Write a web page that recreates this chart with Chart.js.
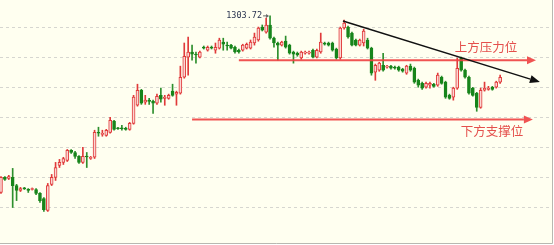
<!DOCTYPE html>
<html>
<head>
<meta charset="utf-8">
<script src="https://cdn.jsdelivr.net/npm/chart.js"></script>
<style>
  html, body { margin: 0; padding: 0; background: #fff; }
</style>
</head>
<body>
<canvas id="kline" width="554" height="245"></canvas>
<script>
// K线数据：开 / 高 / 低 / 收
const opens = [
  1245.0, 1250.0, 1249.7, 1250.0, 1247.3, 1245.7, 1246.3, 1246.0, 1246.0, 1246.0,
  1244.7, 1243.0, 1239.0, 1247.7, 1250.0, 1254.0, 1255.0, 1255.7, 1259.0, 1258.3,
  1257.0, 1255.0, 1257.0, 1256.3, 1256.7, 1265.0, 1264.3, 1264.0, 1265.0, 1268.7,
  1266.3, 1266.3, 1266.3, 1266.0, 1268.0, 1274.0, 1279.0, 1275.0, 1275.7, 1275.3,
  1274.7, 1277.3, 1276.3, 1276.3, 1278.7, 1277.7, 1278.0, 1283.3, 1290.0, 1291.7,
  1291.0, 1290.0, 1293.3, 1292.3, 1293.3, 1292.3, 1293.0, 1295.0, 1294.0, 1294.0,
  1293.3, 1292.3, 1292.3, 1293.0, 1293.0, 1294.7, 1295.7, 1300.0, 1298.3, 1300.7,
  1296.3, 1294.7, 1294.0, 1295.3, 1294.0, 1291.7, 1291.3, 1289.7, 1291.3, 1291.3,
  1292.3, 1290.0, 1291.7, 1294.7, 1294.7, 1294.7, 1292.7, 1289.7, 1299.7, 1300.0,
  1298.0, 1295.7, 1294.0, 1294.7, 1295.7, 1293.0, 1285.0, 1285.7, 1287.3, 1286.7,
  1287.0, 1286.7, 1286.7, 1286.0, 1284.7, 1287.0, 1286.3, 1282.3, 1281.3, 1280.0,
  1280.7, 1281.0, 1280.7, 1283.3, 1281.7, 1277.3, 1276.7, 1279.7, 1289.7, 1285.7,
  1283.3, 1279.7, 1278.0, 1273.3, 1279.0, 1279.3, 1280.0, 1280.0, 1281.7
];
const highs = [
  1250.3, 1250.3, 1250.7, 1253.0, 1247.7, 1246.7, 1246.7, 1246.3, 1246.5, 1246.3,
  1245.0, 1243.3, 1248.0, 1251.0, 1255.0, 1256.0, 1256.7, 1259.3, 1259.3, 1258.7,
  1257.3, 1260.0, 1258.3, 1257.0, 1265.7, 1266.7, 1265.7, 1266.0, 1270.0, 1269.0,
  1266.7, 1267.3, 1266.7, 1268.3, 1277.3, 1281.0, 1279.3, 1277.3, 1276.3, 1275.7,
  1277.7, 1279.7, 1277.3, 1277.7, 1281.0, 1278.7, 1287.0, 1294.7, 1296.7, 1294.0,
  1291.7, 1292.0, 1293.7, 1293.7, 1293.7, 1294.7, 1296.3, 1296.3, 1295.0, 1294.3,
  1293.7, 1292.7, 1294.3, 1294.7, 1295.7, 1298.0, 1300.0, 1300.7, 1303.0, 1303.72,
  1296.7, 1295.0, 1295.3, 1297.0, 1294.3, 1292.0, 1291.7, 1292.0, 1292.0, 1292.0,
  1292.7, 1292.7, 1298.0, 1295.0, 1295.0, 1295.0, 1293.0, 1300.0, 1302.3, 1300.3,
  1298.3, 1296.0, 1296.0, 1299.3, 1296.3, 1293.3, 1287.7, 1288.3, 1291.3, 1287.3,
  1287.3, 1287.0, 1287.0, 1286.3, 1287.3, 1287.7, 1286.7, 1282.7, 1281.7, 1281.7,
  1281.7, 1281.3, 1284.7, 1283.7, 1282.0, 1277.7, 1280.0, 1289.7, 1290.0, 1286.0,
  1283.7, 1280.0, 1278.3, 1279.7, 1281.7, 1280.3, 1280.3, 1282.0, 1284.0
];
const lows = [
  1244.7, 1249.0, 1249.3, 1240.0, 1242.3, 1245.3, 1246.0, 1245.0, 1245.8, 1244.3,
  1241.7, 1238.7, 1238.7, 1247.3, 1249.0, 1253.3, 1254.3, 1255.3, 1258.0, 1256.3,
  1254.7, 1254.7, 1253.3, 1256.0, 1256.3, 1263.7, 1263.7, 1263.7, 1264.7, 1265.7,
  1266.0, 1265.7, 1265.7, 1265.7, 1267.7, 1273.7, 1274.3, 1274.3, 1274.3, 1271.3,
  1274.3, 1275.0, 1274.0, 1276.0, 1277.0, 1274.0, 1277.7, 1283.0, 1284.0, 1289.0,
  1288.0, 1289.7, 1292.7, 1292.0, 1292.7, 1291.3, 1292.7, 1292.3, 1292.3, 1292.7,
  1291.3, 1291.3, 1292.0, 1292.7, 1292.7, 1294.0, 1295.3, 1298.7, 1298.0, 1296.0,
  1293.3, 1289.0, 1293.7, 1293.0, 1291.0, 1288.0, 1290.3, 1289.3, 1291.0, 1291.0,
  1289.7, 1289.7, 1291.3, 1294.0, 1293.7, 1292.0, 1289.3, 1289.3, 1299.3, 1296.3,
  1293.7, 1293.7, 1293.7, 1293.7, 1292.7, 1284.0, 1282.3, 1285.3, 1285.3, 1286.3,
  1286.0, 1286.0, 1285.3, 1285.0, 1284.3, 1285.3, 1281.3, 1280.0, 1279.3, 1279.7,
  1279.7, 1280.0, 1280.3, 1281.0, 1276.3, 1276.0, 1275.7, 1279.3, 1285.3, 1283.0,
  1277.7, 1277.0, 1272.0, 1273.0, 1278.7, 1279.0, 1279.0, 1279.7, 1281.3
];
const closes = [
  1250.0, 1249.3, 1250.3, 1247.3, 1245.7, 1246.3, 1246.2, 1245.7, 1246.3, 1244.7,
  1242.3, 1239.3, 1247.3, 1250.0, 1253.3, 1255.0, 1256.3, 1259.0, 1258.3, 1257.0,
  1255.0, 1257.0, 1256.8, 1256.7, 1265.0, 1264.7, 1264.7, 1265.7, 1269.0, 1266.0,
  1266.2, 1266.2, 1266.0, 1268.0, 1276.7, 1279.0, 1274.7, 1275.7, 1275.3, 1274.7,
  1277.0, 1276.0, 1276.7, 1277.3, 1277.3, 1278.3, 1283.3, 1290.3, 1291.7, 1291.0,
  1290.7, 1291.7, 1293.0, 1293.3, 1293.0, 1293.3, 1295.7, 1294.3, 1293.7, 1293.0,
  1291.7, 1291.7, 1294.0, 1294.3, 1295.0, 1296.7, 1299.7, 1299.0, 1300.7, 1296.3,
  1294.7, 1294.0, 1295.0, 1293.3, 1291.3, 1291.0, 1290.7, 1291.7, 1291.7, 1291.7,
  1290.0, 1292.3, 1295.0, 1294.3, 1294.0, 1292.3, 1289.7, 1299.7, 1301.3, 1296.7,
  1294.0, 1294.0, 1295.7, 1298.7, 1293.0, 1284.7, 1287.3, 1288.0, 1285.7, 1287.0,
  1286.3, 1286.3, 1285.7, 1285.3, 1287.0, 1285.7, 1281.7, 1280.7, 1279.7, 1281.3,
  1281.3, 1280.3, 1284.0, 1281.3, 1276.7, 1276.3, 1279.7, 1286.3, 1285.7, 1283.3,
  1278.0, 1277.3, 1273.3, 1279.0, 1279.7, 1279.7, 1279.3, 1281.7, 1283.3
];
const gridPrices = [1240, 1250, 1260, 1270, 1280, 1290, 1300];

// 标注（K线序号, 价格）
const peakIndex = 69;
const peakLabel = '1303.72';
const resistance = 1289.0;          // 上方压力位
const resistanceSpan = [61.0, 137.2];
const support = 1269.3;             // 下方支撑位
const supportSpan = [49.0, 136.4];
const trendFrom = [87.7, 1302.0];
const trendTo = [138.2, 1281.7];
const labelTexts = ['上方压力位', '下方支撑位'];
const labelPoints = [[124.4, 1293.2], [125.9, 1265.2]];

const idx = opens.map((_, i) => i);
const isUp = i => closes[i] >= opens[i];

const bgPlugin = {
  id: 'bg',
  beforeDraw(chart) {
    const { ctx, chartArea: a } = chart;
    ctx.save();
    ctx.fillStyle = '#ffffff';
    ctx.fillRect(0, 0, chart.width, chart.height);
    ctx.fillStyle = '#fffff0';
    ctx.fillRect(a.left, a.top, a.right - a.left, a.bottom - a.top);
    ctx.restore();
  },
  afterDraw(chart) {
    const { ctx, chartArea: a } = chart;
    ctx.save();
    ctx.strokeStyle = '#b8b8b0';
    ctx.lineWidth = 1;
    ctx.beginPath();
    ctx.moveTo(a.left, a.bottom + 0.5);
    ctx.lineTo(a.right + 0.5, a.bottom + 0.5);
    ctx.lineTo(a.right + 0.5, a.top);
    ctx.stroke();
    ctx.restore();
  }
};

function arrow(ctx, x1, y1, x2, y2, color, width, len, half) {
  const ang = Math.atan2(y2 - y1, x2 - x1);
  const bx = x2 - len * Math.cos(ang), by = y2 - len * Math.sin(ang);
  ctx.strokeStyle = color;
  ctx.fillStyle = color;
  ctx.lineWidth = width;
  ctx.beginPath();
  ctx.moveTo(x1, y1);
  ctx.lineTo(bx, by);
  ctx.stroke();
  ctx.beginPath();
  ctx.moveTo(x2, y2);
  ctx.lineTo(bx + half * Math.sin(ang), by - half * Math.cos(ang));
  ctx.lineTo(bx - half * Math.sin(ang), by + half * Math.cos(ang));
  ctx.closePath();
  ctx.fill();
}

const markPlugin = {
  id: 'marks',
  afterDatasetsDraw(chart) {
    const { ctx, scales: { x, y } } = chart;
    const px = v => x.getPixelForValue(v), py = v => y.getPixelForValue(v);
    ctx.save();
    arrow(ctx, px(resistanceSpan[0]), py(resistance), px(resistanceSpan[1]), py(resistance), 'rgba(238,64,64,0.9)', 2, 9, 4);
    arrow(ctx, px(supportSpan[0]), py(support), px(supportSpan[1]), py(support), 'rgba(238,64,64,0.9)', 2, 9, 4);
    arrow(ctx, px(trendFrom[0]), py(trendFrom[1]), px(trendTo[0]), py(trendTo[1]), '#111111', 1.5, 10, 4);

    ctx.font = '12.5px "Noto Sans CJK SC"';
    ctx.fillStyle = '#e4504c';
    ctx.textAlign = 'center';
    ctx.textBaseline = 'middle';
    labelTexts.forEach((t, k) => ctx.fillText(t, px(labelPoints[k][0]), py(labelPoints[k][1])));

    const hx = px(peakIndex), hy = py(highs[peakIndex]);
    ctx.font = '8.5px "DejaVu Sans Mono"';
    ctx.fillStyle = '#2b3550';
    ctx.textAlign = 'right';
    ctx.fillText(peakLabel, hx - 8, hy);
    arrow(ctx, hx - 7, hy, hx - 1, hy, '#666666', 1, 3, 2);
    ctx.restore();
  }
};

new Chart(document.getElementById('kline').getContext('2d'), {
  type: 'bar',
  data: {
    datasets: [
      {
        label: 'wick',
        data: idx.map(i => ({ x: i, y: [lows[i], highs[i]] })),
        barThickness: 1,
        grouped: false,
        order: 1,
        backgroundColor: c => isUp(c.dataIndex) ? '#e03a3a' : '#2d8f2d'
      },
      {
        label: 'body',
        data: idx.map(i => ({ x: i, y: [opens[i], closes[i]] })),
        barThickness: 3,
        minBarLength: 1,
        grouped: false,
        order: 0,
        borderWidth: 1,
        borderSkipped: false,
        backgroundColor: c => isUp(c.dataIndex) ? '#fbd6d3' : '#17851b',
        borderColor: c => isUp(c.dataIndex) ? '#e03a3a' : '#17851b'
      }
    ]
  },
  options: {
    responsive: false,
    animation: false,
    layout: { padding: { left: 0, top: 0, right: 2, bottom: 2 } },
    plugins: { legend: { display: false }, tooltip: { enabled: false } },
    scales: {
      x: { type: 'linear', min: -0.25, max: 141.3, offset: false, display: false },
      y: {
        min: 1228.2, max: 1309,
        afterBuildTicks: s => { s.ticks = gridPrices.map(v => ({ value: v })); },
        ticks: { display: false },
        grid: { color: '#d6d6d0', drawTicks: false, tickLength: 0 },
        border: { display: false, dash: [3, 3] }
      }
    }
  },
  plugins: [bgPlugin, markPlugin]
});
</script>
</body>
</html>
